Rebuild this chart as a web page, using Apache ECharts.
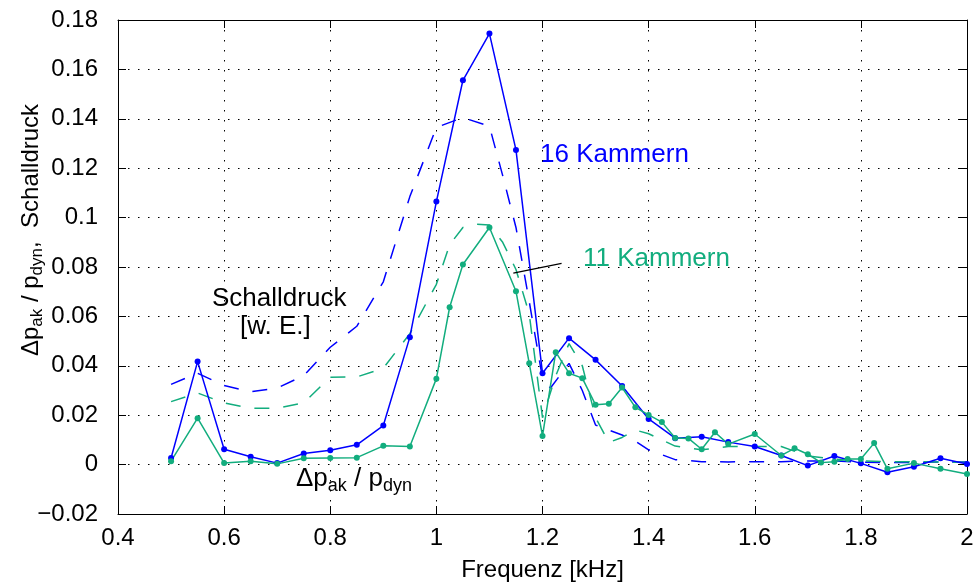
<!DOCTYPE html>
<html>
<head>
<meta charset="utf-8">
<script src="https://cdn.jsdelivr.net/npm/echarts/dist/echarts.min.js"></script>
<style>
html,body{margin:0;padding:0;background:#fff;}
#c{width:975px;height:583px;}
</style>
</head>
<body>
<div id="c"></div>
<script>
// ---- data ----
const xTicks = [0.4, 0.6, 0.8, 1.0, 1.2, 1.4, 1.6, 1.8, 2.0];
const yTicks = [-0.02, 0, 0.02, 0.04, 0.06, 0.08, 0.1, 0.12, 0.14, 0.16, 0.18];

// 16 Kammern, Δp_ak / p_dyn (solid, markers)
const blueFreq = [0.5,0.55,0.6,0.65,0.7,0.75,0.8,0.85,0.9,0.95,1.0,1.05,1.1,1.15,1.2,1.25,1.3,1.35,1.4,1.45,1.5,1.55,1.6,1.65,1.7,1.75,1.8,1.85,1.9,1.95,2.0];
const blueDp = [0.0027,0.0417,0.0062,0.0032,0.0006,0.0045,0.0058,0.0080,0.0158,0.0516,0.1065,0.1556,0.1745,0.1274,0.0370,0.0512,0.0424,0.0318,0.0185,0.0107,0.0113,0.0091,0.0073,0.0037,-0.0004,0.0035,0.0005,-0.0031,-0.0009,0.0026,0.0002];

// 11 Kammern, Δp_ak / p_dyn (solid, markers)
const greenFreq = [0.5,0.55,0.6,0.65,0.7,0.75,0.8,0.85,0.9,0.95,1.0,1.025,1.05,1.1,1.15,1.175,1.2,1.225,1.25,1.275,1.3,1.325,1.35,1.375,1.4,1.425,1.45,1.475,1.5,1.525,1.55,1.6,1.65,1.675,1.7,1.725,1.75,1.775,1.8,1.825,1.85,1.9,1.95,2.0];
const greenDp = [0.0014,0.0188,0.0006,0.0014,0.0003,0.0026,0.0027,0.0028,0.0076,0.0073,0.0348,0.0637,0.0810,0.0960,0.0702,0.0410,0.0116,0.0455,0.0370,0.0350,0.0242,0.0246,0.0312,0.0232,0.0201,0.0172,0.0108,0.0106,0.0062,0.0131,0.0083,0.0124,0.0037,0.0066,0.0042,0.0008,0.0012,0.0023,0.0023,0.0087,-0.0017,0.0006,-0.0017,-0.0038];

// Schalldruck [w. E.] 16 Kammern (dashed)
const blueSpFreq = [0.5,0.55,0.6,0.65,0.7,0.75,0.8,0.85,0.9,0.95,1.0,1.05,1.1,1.125,1.15,1.175,1.2,1.215,1.25,1.275,1.3,1.325,1.35,1.375,1.4,1.425,1.45,1.5,1.55,1.6,1.65,1.7,1.75,1.8,1.85,1.9,1.95,2.0];
const blueSp = [0.0325,0.0370,0.0320,0.0295,0.0310,0.0360,0.0475,0.0560,0.0740,0.1085,0.1365,0.1405,0.1370,0.1170,0.0960,0.0660,0.0350,0.0310,0.0410,0.0300,0.0160,0.0140,0.0120,0.0095,0.0060,0.0040,0.0020,0.0012,0.0011,0.0012,0.0012,0.0015,0.0015,0.0010,0.0008,0.0008,0.0011,0.0011];

// Schalldruck [w. E.] 11 Kammern (dashed)
const greenSpFreq = [0.5,0.55,0.6,0.65,0.7,0.75,0.8,0.85,0.9,0.95,1.0,1.025,1.05,1.075,1.1,1.125,1.15,1.175,1.2,1.225,1.25,1.275,1.3,1.325,1.35,1.375,1.4,1.425,1.45,1.5,1.55,1.6,1.65,1.7,1.75,1.8,1.85,1.9,1.95,2.0];
const greenSp = [0.0255,0.0290,0.0250,0.0228,0.0228,0.0250,0.0354,0.0355,0.0390,0.0530,0.0730,0.0890,0.0960,0.0973,0.0970,0.0900,0.0790,0.0610,0.0190,0.0360,0.0490,0.0400,0.0190,0.0090,0.0110,0.0140,0.0125,0.0100,0.0075,0.0060,0.0073,0.0073,0.0073,0.0035,0.0022,0.0015,0.0012,0.0012,0.0010,0.0010];

// pointer line of the "11 Kammern" label
const pointerFreq = [1.145, 1.236];
const pointerVal = [0.0775, 0.0815];

const BLUE = '#0000ff';
const GREEN = '#12ad7e';
const FONT = '"Liberation Sans", Arial, Helvetica, sans-serif';

function zip(a, b) { return a.map((v, i) => [v, b[i]]); }
function fmt(v) {
  const r = Math.round(v * 1000) / 1000;
  return String(r).replace('-', '\u2212');
}

const rich = {
  n: { fontSize: 24, fontFamily: FONT, color: '#000', lineHeight: 30, verticalAlign: 'middle' },
  s: { fontSize: 17, fontFamily: FONT, color: '#000', lineHeight: 14, verticalAlign: 'bottom' }
};
const richBig = {
  n: { fontSize: 26, fontFamily: FONT, color: '#000', lineHeight: 32, verticalAlign: 'middle' },
  s: { fontSize: 18, fontFamily: FONT, color: '#000', lineHeight: 14, verticalAlign: 'bottom' }
};

const axisCommonX = {
  type: 'value', min: xTicks[0], max: xTicks[xTicks.length - 1], interval: 0.2,
  axisLine: { show: true, onZero: false, lineStyle: { color: '#000', width: 1 } },
  axisTick: { show: true, inside: true, length: 8, lineStyle: { color: '#000' } },
  minorTick: { show: false }
};
const axisCommonY = {
  type: 'value', min: yTicks[0], max: yTicks[yTicks.length - 1], interval: 0.02,
  axisLine: { show: true, onZero: false, lineStyle: { color: '#000', width: 1 } },
  axisTick: { show: true, inside: true, length: 8, lineStyle: { color: '#000' } }
};

const chart = echarts.init(document.getElementById('c'), null, { renderer: 'canvas' });
chart.setOption({
  animation: false,
  backgroundColor: '#fff',
  grid: { left: 118, right: 8, top: 20, bottom: 69, containLabel: false, outerBoundsMode: 'none' },
  xAxis: [
    Object.assign({}, axisCommonX, {
      position: 'bottom',
      name: 'Frequenz [kHz]', nameLocation: 'middle', nameGap: 44, nameMoveOverlap: false,
      nameTextStyle: { fontSize: 24, fontFamily: FONT, color: '#000' },
      axisLabel: { show: true, margin: 12, fontSize: 24, fontFamily: FONT, color: '#000', formatter: fmt },
      splitLine: { show: true, lineStyle: { color: '#000', width: 1, type: [1.5, 8.5] } }
    }),
    Object.assign({}, axisCommonX, {
      position: 'top', axisLabel: { show: false }, splitLine: { show: false }
    })
  ],
  yAxis: [
    Object.assign({}, axisCommonY, {
      position: 'left',
      name: '{n|\u0394p}{s|ak}{n| / p}{s|dyn}{n|,  Schalldruck}',
      nameLocation: 'middle', nameGap: 72, nameRotate: 90, nameMoveOverlap: false,
      nameTextStyle: { rich: rich, padding: [0, 0, 0, 74] },
      axisLabel: { show: true, margin: 20, fontSize: 24, fontFamily: FONT, color: '#000', formatter: fmt },
      splitLine: { show: true, lineStyle: { color: '#000', width: 1, type: [1.5, 8.5] } }
    }),
    Object.assign({}, axisCommonY, {
      position: 'right', axisLabel: { show: false }, splitLine: { show: false }
    })
  ],
  series: [
    {
      type: 'line', name: 'Schalldruck 16', data: zip(blueSpFreq, blueSp),
      showSymbol: false, symbol: 'none',
      lineStyle: { color: BLUE, width: 1.5, type: [15, 14] }, z: 2
    },
    {
      type: 'line', name: 'Schalldruck 11', data: zip(greenSpFreq, greenSp),
      showSymbol: false, symbol: 'none',
      lineStyle: { color: GREEN, width: 1.5, type: [15, 14] }, z: 2
    },
    {
      type: 'line', name: '16 Kammern', data: zip(blueFreq, blueDp),
      symbol: 'circle', symbolSize: 6, showAllSymbol: true,
      itemStyle: { color: BLUE }, lineStyle: { color: BLUE, width: 1.5 }, z: 3
    },
    {
      type: 'line', name: '11 Kammern', data: zip(greenFreq, greenDp),
      symbol: 'circle', symbolSize: 6, showAllSymbol: true,
      itemStyle: { color: GREEN }, lineStyle: { color: GREEN, width: 1.5 }, z: 3
    },
    {
      type: 'line', name: 'pointer', data: zip(pointerFreq, pointerVal),
      symbol: 'none', lineStyle: { color: '#000', width: 1.2 }, z: 4
    }
  ],
  graphic: [
    { type: 'text', left: 540, top: 142, style: { text: '16 Kammern', fill: BLUE, font: '26px ' + FONT } },
    { type: 'text', left: 583, top: 246, style: { text: '11 Kammern', fill: GREEN, font: '26px ' + FONT } },
    { type: 'text', left: 212, top: 286, style: { text: 'Schalldruck', fill: '#000', font: '26px ' + FONT } },
    { type: 'text', left: 240, top: 314, style: { text: '[w. E.]', fill: '#000', font: '26px ' + FONT } },
    { type: 'text', left: 296, top: 466, style: { text: '{n|\u0394p}{s|ak}{n| / p}{s|dyn}', rich: richBig } }
  ]
});
</script>
</body>
</html>
